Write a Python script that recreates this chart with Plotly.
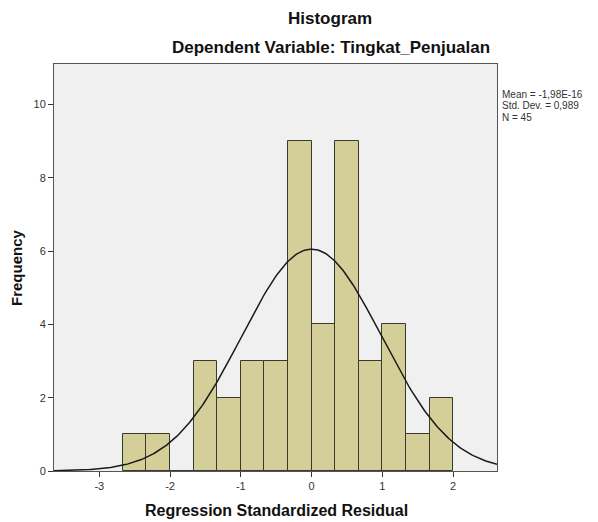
import numpy as np
import plotly.graph_objects as go

# Data
bin_starts = [-8/3, -7/3, -2.0, -5/3, -4/3, -1.0, -2/3, -1/3, 0.0, 1/3, 2/3, 1.0, 4/3, 5/3]
bin_width = 1/3
counts = [1, 1, 0, 3, 2, 3, 3, 9, 4, 9, 3, 4, 1, 2]
mean_val = -1.98e-16
std_val = 0.989
n_val = 45
stats_lines = ["Mean = -1,98E-16", "Std. Dev. = 0,989", "N = 45"]
x_ticks = [-3, -2, -1, 0, 1, 2]
y_ticks = [0, 2, 4, 6, 8, 10]

FONT = "Liberation Sans, Arial, sans-serif"

# plot area in page pixels (page has an 8px body margin)
PX0, PX1, PY0, PY1 = 54, 497, 64, 471


def px(x):
    return (x - PX0) / (PX1 - PX0)


def py(y):
    return (PY1 - y) / (PY1 - PY0)


fig = go.Figure()
fig.add_trace(go.Bar(
    x=bin_starts, y=counts, width=[bin_width] * len(counts), offset=0,
    marker=dict(color="#D4CF98", line=dict(color="#3a3a2c", width=1)),
    showlegend=False, hoverinfo="skip",
))

# Normal curve defined by the reported mean, std dev and N
xs = np.linspace(-3.64, 2.62, 300)
ys = n_val * bin_width * np.exp(-0.5 * ((xs - mean_val) / std_val) ** 2) / (std_val * np.sqrt(2 * np.pi))
fig.add_trace(go.Scatter(x=xs, y=ys, mode="lines", line=dict(color="#1a1a1a", width=1.5),
                         showlegend=False, hoverinfo="skip"))

annotations = [
    dict(text="<b>Histogram</b>", x=px(330), y=py(19), size=17),
    dict(text="<b>Dependent Variable: Tingkat_Penjualan</b>", x=px(331), y=py(48), size=17),
    dict(text="<b>Regression Standardized Residual</b>", x=px(276), y=py(510), size=16),
]
anns = []
for a in annotations:
    anns.append(dict(text=a["text"], x=a["x"], y=a["y"], xref="paper", yref="paper",
                     showarrow=False, xanchor="center", yanchor="middle",
                     font=dict(size=a["size"], color="#111111", family=FONT)))
anns.append(dict(text="<b>Frequency</b>", x=px(16.5), y=py(267.5), xref="paper", yref="paper",
                 showarrow=False, xanchor="center", yanchor="middle", textangle=-90,
                 font=dict(size=15, color="#111111", family=FONT)))
for i, line in enumerate(stats_lines):
    anns.append(dict(text=line, x=px(501), y=py(94 + 11.5 * i), xref="paper", yref="paper",
                     showarrow=False, xanchor="left", yanchor="middle", borderpad=0,
                     font=dict(size=10, color="#333333", family=FONT)))

fig.update_layout(
    width=590, height=514,
    margin=dict(l=46, r=101, t=56, b=51),
    paper_bgcolor="white", plot_bgcolor="#F0F0F0",
    bargap=0,
    font=dict(family=FONT, color="#333333"),
    annotations=anns,
)

fig.update_xaxes(
    range=[-3.64, 2.62], tickvals=x_ticks, ticktext=[str(v) for v in x_ticks],
    showgrid=False, zeroline=False, showline=True, linecolor="#555555", linewidth=1,
    mirror=True, ticks="outside", ticklen=5, tickcolor="#333333",
    tickfont=dict(size=11, color="#333333"),
)
fig.update_yaxes(
    range=[0, 11.1], tickvals=y_ticks, showgrid=False, zeroline=False,
    showline=True, linecolor="#555555", linewidth=1, mirror=True,
    ticks="outside", ticklen=5, tickcolor="#333333",
    tickfont=dict(size=11, color="#333333"),
)

fig.write_html("out.html")
